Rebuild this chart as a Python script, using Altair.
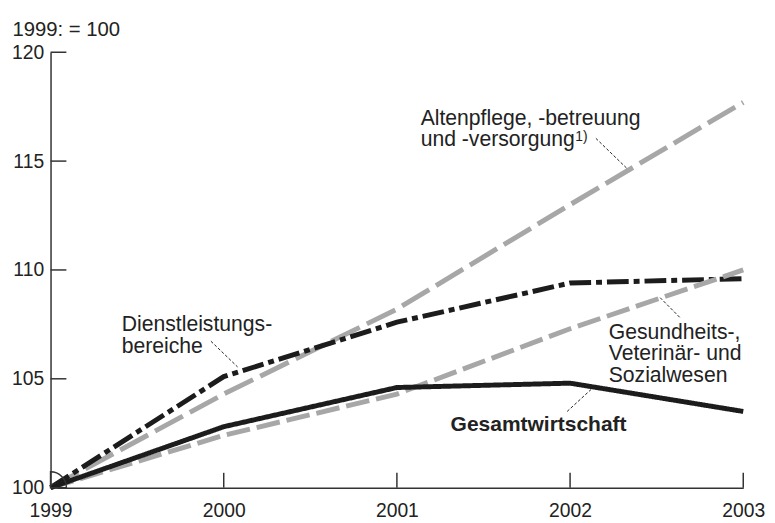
import math
import altair as alt
import pandas as pd

# ---- data ----
years = [1999, 2000, 2001, 2002, 2003]
altenpflege = [100.0, 104.3, 108.2, 113.0, 117.7]
dienstleistung = [100.0, 105.1, 107.6, 109.4, 109.6]
gesundheit = [100.0, 102.4, 104.3, 107.3, 110.0]
gesamt = [100.0, 102.8, 104.6, 104.8, 103.5]

y_ticks = [100, 105, 110, 115, 120]
x_ticks = [1999, 2000, 2001, 2002, 2003]

# annotation labels (data coordinates)
label_text = ["Altenpflege, -betreuung\nund -versorgung", "Dienstleistungs-\nbereiche",
              "Gesundheits-,\nVeterinär- und\nSozialwesen"]
label_x = [2001.137, 1999.411, 2002.223]
label_y = [116.68, 107.18, 106.82]
bold_text = ["Gesamtwirtschaft"]
bold_x = [2001.31]
bold_y = [102.59]
sup_text = ["1)"]
sup_x = [2002.03]
sup_y = [115.92]

# leader lines
lead_x1 = [2002.149, 1999.926, 2002.52, 2001.983]
lead_y1 = [116.045, 106.727, 108.727, 103.5]
lead_x2 = [2002.326, 2000.08, 2002.634, 2002.126]
lead_y2 = [114.682, 105.545, 107.818, 104.545]

GRAY = "#a7a7a7"
BLACK = "#1c1c1c"
FONT = "Liberation Sans"

W, H = 700, 440
xs = alt.Scale(domain=[1999, 2003], nice=False, zero=False)
ys = alt.Scale(domain=[100, 120], nice=False, zero=False)


def series_df(vals):
    return pd.DataFrame({"year": years, "value": vals})


x_axis = alt.Axis(values=x_ticks, format="d", ticks=False, grid=False, title=None,
                  labelFontSize=19.5, labelPadding=14, labelColor="#222", labelFont=FONT,
                  domainColor="#333", domainWidth=1.5, labelFlush=False)
y_axis = alt.Axis(values=y_ticks, ticks=False, grid=False, labelFontSize=19.5,
                  labelPadding=7, labelColor="#222", labelFont=FONT,
                  domainColor="#333", domainWidth=1.5,
                  title="1999: = 100", titleAngle=0, titleAlign="left",
                  titleBaseline="alphabetic", titleX=-39, titleY=-17,
                  titleFontSize=20.5, titleFontWeight="normal", titleColor="#222",
                  titleFont=FONT)


def line_layer(vals, color, dash, width=5):
    return alt.Chart(series_df(vals)).mark_line(
        color=color, strokeDash=dash, strokeWidth=width, strokeCap="butt", strokeJoin="miter"
    ).encode(
        x=alt.X("year:Q", scale=xs, axis=x_axis),
        y=alt.Y("value:Q", scale=ys, axis=y_axis),
    )


l_alt = line_layer(altenpflege, GRAY, [32, 8])
l_dien = line_layer(dienstleistung, BLACK, [22, 5, 6, 5])
l_ges = line_layer(gesundheit, GRAY, [24, 7])
l_tot = line_layer(gesamt, BLACK, [1, 0], 5)

# inward ticks
ytick_df = pd.DataFrame({"v": y_ticks[1:]})
ytick = alt.Chart(ytick_df).mark_rule(color="#333", strokeWidth=1.5).encode(
    y=alt.Y("v:Q", scale=ys), x=alt.value(0), x2=alt.value(16))
xtick_df = pd.DataFrame({"v": x_ticks[1:]})
xtick = alt.Chart(xtick_df).mark_rule(color="#333", strokeWidth=1.5).encode(
    x=alt.X("v:Q", scale=xs), y=alt.value(H), y2=alt.value(H - 15))

# axis break arc at origin
arc = alt.Chart(pd.DataFrame({"x": [x_ticks[0]], "y": [y_ticks[0]]})).mark_arc(
    filled=False, stroke="#333", strokeWidth=1.5, outerRadius=16, innerRadius=0,
    theta=0, theta2=math.pi / 2
).encode(x=alt.X("x:Q", scale=xs), y=alt.Y("y:Q", scale=ys))

# leader lines
lead_df = pd.DataFrame({"x1": lead_x1, "y1": lead_y1, "x2": lead_x2, "y2": lead_y2})
leaders = alt.Chart(lead_df).mark_rule(color="#222", strokeWidth=1, strokeDash=[3, 2]).encode(
    x=alt.X("x1:Q", scale=xs), y=alt.Y("y1:Q", scale=ys), x2="x2:Q", y2="y2:Q")

lab_df = pd.DataFrame({"t": label_text, "x": label_x, "y": label_y})
labels = alt.Chart(lab_df).mark_text(
    align="left", baseline="alphabetic", fontSize=21.4, font=FONT, color="#222",
    lineBreak="\n", lineHeight=21.5
).encode(x=alt.X("x:Q", scale=xs), y=alt.Y("y:Q", scale=ys), text="t:N")

bold_df = pd.DataFrame({"t": bold_text, "x": bold_x, "y": bold_y})
bold = alt.Chart(bold_df).mark_text(
    align="left", baseline="alphabetic", fontSize=21.2, font=FONT, fontWeight="bold", color="#222"
).encode(x=alt.X("x:Q", scale=xs), y=alt.Y("y:Q", scale=ys), text="t:N")

sup_df = pd.DataFrame({"t": sup_text, "x": sup_x, "y": sup_y})
sup = alt.Chart(sup_df).mark_text(
    align="left", baseline="alphabetic", fontSize=14, font=FONT, color="#222"
).encode(x=alt.X("x:Q", scale=xs), y=alt.Y("y:Q", scale=ys), text="t:N")

chart = alt.layer(
    l_alt, l_dien, l_ges, l_tot, ytick, xtick, arc, leaders, labels, bold, sup
).properties(
    width=W, height=H,
    autosize=alt.AutoSizeParams(type="none"),
    padding={"left": 43, "top": 42, "right": 24, "bottom": 33},
    background="white",
).configure_view(stroke=None)

chart.save("out.html", embed_options={"renderer": "svg", "actions": False})
